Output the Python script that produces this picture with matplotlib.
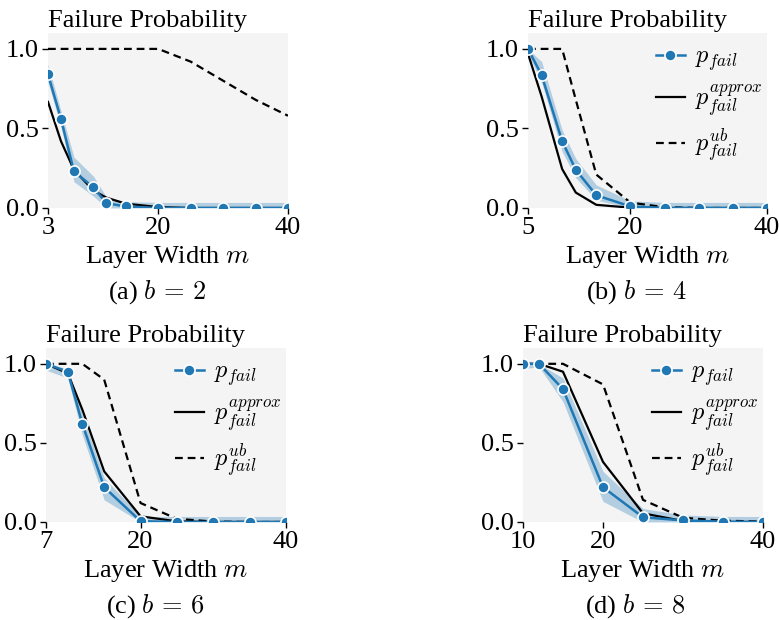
import matplotlib
matplotlib.use('Agg')
import matplotlib.pyplot as plt
from matplotlib.ticker import FixedLocator

plt.rcParams['font.family'] = ['Liberation Serif', 'DejaVu Serif']
plt.rcParams['mathtext.fontset'] = 'cm'

# ---------------- data ----------------
x_a = [3, 5, 7, 10, 12, 15, 20, 25, 30, 35, 40]
p_a = [0.84, 0.56, 0.23, 0.13, 0.03, 0.01, 0.0, 0.0, 0.0, 0.0, 0.0]
lo_a = [0.79, 0.51, 0.165, 0.075, 0.0, 0.0, 0.0, 0.0, 0.0, 0.0, 0.0]
hi_a = [0.905, 0.61, 0.32, 0.20, 0.07, 0.04, 0.035, 0.035, 0.035, 0.035, 0.035]
approx_a = [0.667, 0.42, 0.24, 0.11, 0.065, 0.027, 0.006, 0.0, 0.0, 0.0, 0.0]
ub_a = [1.0, 1.0, 1.0, 1.0, 1.0, 1.0, 1.0, 0.92, 0.80, 0.68, 0.58]

x_b = [5, 7, 10, 12, 15, 20, 25, 30, 35, 40]
p_b = [1.0, 0.835, 0.42, 0.24, 0.08, 0.01, 0.0, 0.0, 0.0, 0.0]
lo_b = [0.97, 0.79, 0.355, 0.19, 0.05, 0.0, 0.0, 0.0, 0.0, 0.0]
hi_b = [1.0, 0.92, 0.49, 0.31, 0.145, 0.045, 0.035, 0.035, 0.035, 0.035]
approx_b = [0.97, 0.70, 0.245, 0.097, 0.02, 0.002, 0.0, 0.0, 0.0, 0.0]
ub_b = [1.0, 1.0, 1.0, 0.68, 0.21, 0.034, 0.005, 0.0, 0.0, 0.0]

x_c = [7, 10, 12, 15, 20, 25, 30, 35, 40]
p_c = [1.0, 0.95, 0.62, 0.22, 0.005, 0.0, 0.0, 0.0, 0.0]
lo_c = [0.96, 0.91, 0.55, 0.14, 0.0, 0.0, 0.0, 0.0, 0.0]
hi_c = [1.0, 0.97, 0.68, 0.28, 0.035, 0.035, 0.035, 0.035, 0.035]
approx_c = [1.0, 0.94, 0.71, 0.32, 0.036, 0.004, 0.0, 0.0, 0.0]
ub_c = [1.0, 1.0, 1.0, 0.90, 0.12, 0.02, 0.003, 0.0, 0.0]

x_d = [10, 12, 15, 20, 25, 30, 35, 40]
p_d = [1.0, 1.0, 0.84, 0.22, 0.03, 0.01, 0.002, 0.0]
lo_d = [0.97, 0.98, 0.76, 0.13, 0.0, 0.0, 0.0, 0.0]
hi_d = [1.0, 1.0, 0.91, 0.32, 0.085, 0.045, 0.035, 0.035]
approx_d = [1.0, 1.0, 0.95, 0.38, 0.055, 0.006, 0.0, 0.0]
ub_d = [1.0, 1.0, 1.0, 0.87, 0.14, 0.027, 0.008, 0.003]

xticks_list = [[3, 20, 40], [5, 20, 40], [7, 20, 40], [10, 20, 40]]
yticks = [0.0, 0.5, 1.0]
ytick_labels = ['0.0', '0.5', '1.0']
captions = [r'(a) $b\,=\,2$', r'(b) $b\,=\,4$', r'(c) $b\,=\,6$', r'(d) $b\,=\,8$']
legend_on = [False, True, True, True]

panels = [
    (x_a, p_a, lo_a, hi_a, approx_a, ub_a),
    (x_b, p_b, lo_b, hi_b, approx_b, ub_b),
    (x_c, p_c, lo_c, hi_c, approx_c, ub_c),
    (x_d, p_d, lo_d, hi_d, approx_d, ub_d),
]

# ---------------- layout (pixels) ----------------
W, H = 779, 620
fig = plt.figure(figsize=(W / 100, H / 100), dpi=100)
boxes = [(48, 33, 240, 175), (528, 33, 239, 175),
         (46, 348, 240, 174), (523, 348, 240, 174)]
cap_pos = [(157, 292), (636, 292), (155, 606), (635, 606)]

blue = '#1f77b4'
for i, (box, data) in enumerate(zip(boxes, panels)):
    l, t, w, h = box
    ax = fig.add_axes([l / W, 1 - (t + h) / H, w / W, h / H])
    x, p, lo, hi, ap, ub = data
    ax.set_facecolor('#f4f4f4')
    for s in ax.spines.values():
        s.set_visible(False)
    ax.fill_between(x, lo, hi, color=blue, alpha=0.3, linewidth=0, zorder=2)
    ax.plot(x, ap, color='black', lw=1.6, zorder=3, label=r'$p_{fail}^{approx}$')
    ax.plot(x, ub, color='black', lw=1.6, ls=(0, (3.5, 2.2)), zorder=3,
            label=r'$p_{fail}^{ub}$')
    ax.plot(x, p, color=blue, lw=1.8, marker='o', ms=8, mec='white', mew=1.2,
            zorder=4, label=r'$p_{fail}$')
    ax.set_xlim(x[0], x[-1])
    ax.set_ylim(0, 1.1)
    ax.xaxis.set_major_locator(FixedLocator(xticks_list[i]))
    ax.yaxis.set_major_locator(FixedLocator(yticks))
    ax.set_yticklabels(ytick_labels)
    ax.tick_params(axis='both', length=4.5, width=1, color='black',
                   labelsize=19, pad=2)
    ax.set_title('Failure Probability', loc='left', fontsize=19, pad=4)
    ax.set_xlabel('Layer Width $m$', fontsize=19, labelpad=3.5)
    if legend_on[i]:
        hs, ls = ax.get_legend_handles_labels()
        order = [2, 0, 1]
        ax.legend([hs[k] for k in order], [ls[k] for k in order],
                  loc='upper right', bbox_to_anchor=(1.02, 0.98),
                  frameon=False, fontsize=17.5,
                  handlelength=1.2, handletextpad=0.4, labelspacing=0.35,
                  borderaxespad=0.0)
    cx, cy = cap_pos[i]
    fig.text(cx / W, 1 - cy / H, captions[i], ha='center', va='center',
             fontsize=19)

fig.savefig('out.png', dpi=100)
